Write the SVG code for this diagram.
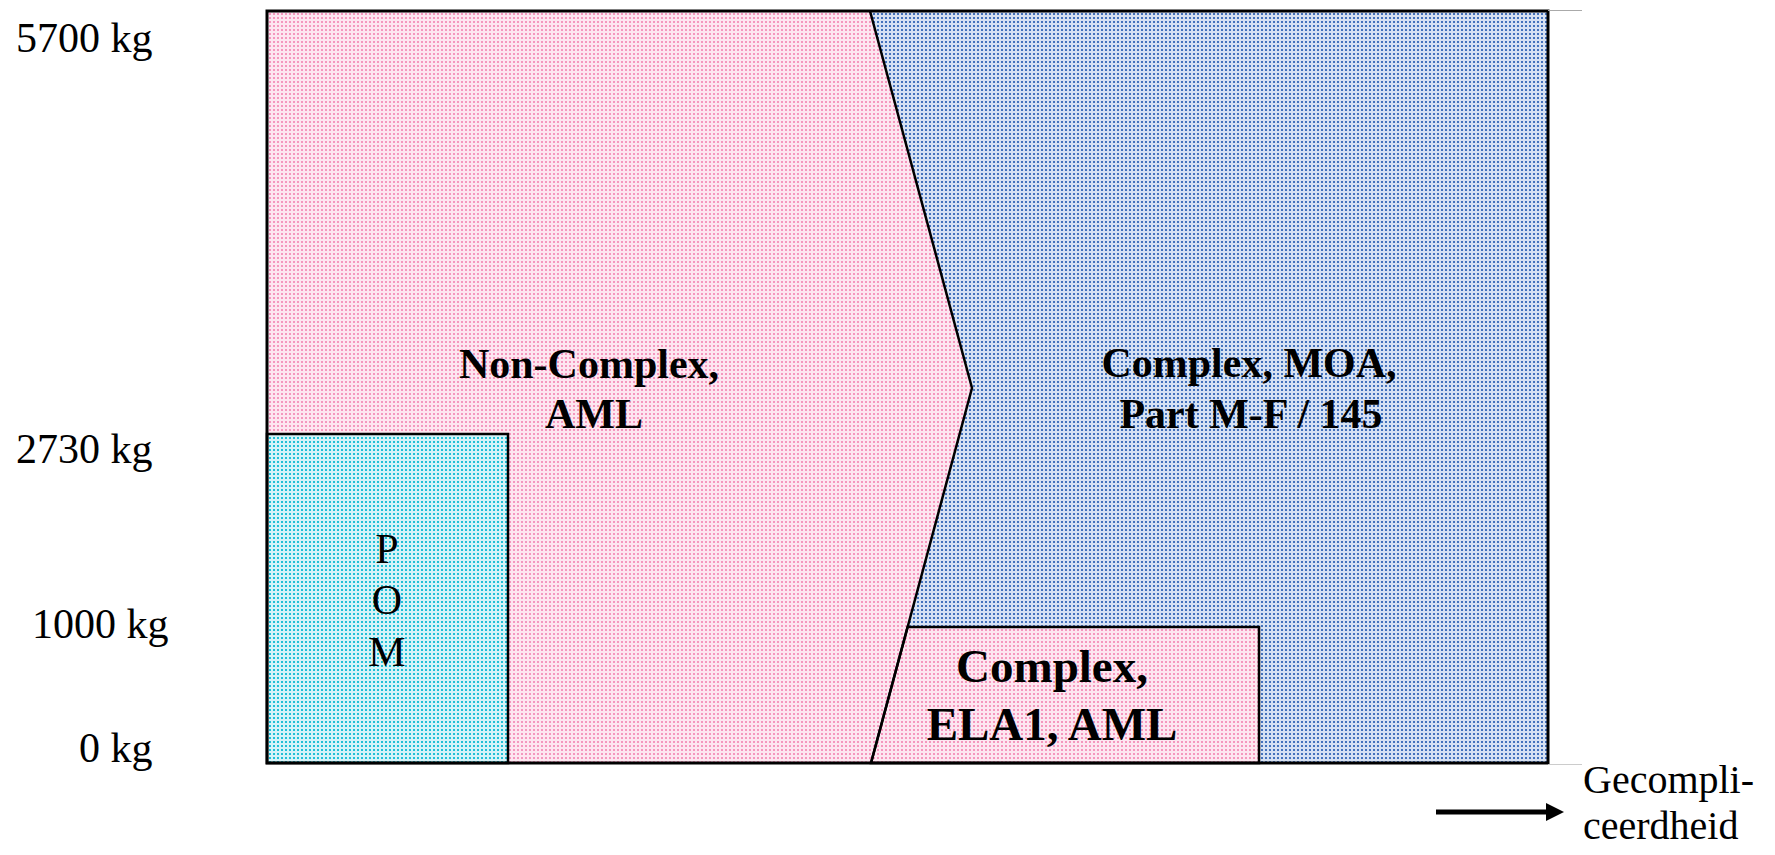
<svg xmlns="http://www.w3.org/2000/svg" width="1775" height="855" viewBox="0 0 1775 855">
  <style>
    .lbl { font-family: "Liberation Serif", "Times New Roman", serif; font-size: 42px; fill: #000; }
    .bold { font-family: "Liberation Serif", "Times New Roman", serif; font-weight: bold; font-size: 42px; fill: #000; text-anchor: middle; }
    .edge { fill: none; stroke: #000; stroke-width: 2.5; }
    .box { stroke: #000; stroke-width: 2.5; }
    .pink { fill: url(#pPink); }
    .blue { fill: url(#pBlue); }
    .cyan { fill: url(#pCyan); }
  </style>
  <defs>
    <pattern id="pPink" width="4" height="4" patternUnits="userSpaceOnUse">
      <rect width="4" height="4" fill="#fde6f0"/>
      <rect x="1" y="1" width="2" height="2" fill="#f497be"/>
    </pattern>
    <pattern id="pBlue" width="4" height="4" patternUnits="userSpaceOnUse">
      <rect width="4" height="4" fill="#d6e1f3"/>
      <rect x="1" y="1" width="2" height="2" fill="#4472bc"/>
    </pattern>
    <pattern id="pCyan" width="4" height="4" patternUnits="userSpaceOnUse">
      <rect width="4" height="4" fill="#d6f3f8"/>
      <rect x="1" y="1" width="2" height="2" fill="#22bfd6"/>
    </pattern>
  </defs>
  <rect width="1775" height="855" fill="#ffffff"/>

  <g id="non-complex">
    <polygon class="pink" points="267,11 870,11 972,388 871,763 267,763"/>
    <text class="bold" x="589" y="378">Non-Complex,</text>
    <text class="bold" x="594" y="428">AML</text>
  </g>

  <g id="complex-moa">
    <polygon class="blue" points="870,11 1548,11 1548,763 871,763 972,388"/>
    <text class="bold" x="1249" y="377">Complex, MOA,</text>
    <text class="bold" x="1251" y="428">Part M-F / 145</text>
  </g>

  <g id="pom">
    <rect class="cyan box" x="267" y="434" width="241" height="329"/>
    <text class="lbl" x="387" y="563" text-anchor="middle" font-size="40">P</text>
    <text class="lbl" x="387" y="614" text-anchor="middle" font-size="40">O</text>
    <text class="lbl" x="387" y="666" text-anchor="middle" font-size="40">M</text>
  </g>

  <g id="complex-ela1">
    <polygon class="pink box" points="907.6,627 1259,627 1259,763 871,763"/>
    <text class="bold" x="1052" y="682" style="font-size:47px">Complex,</text>
    <text class="bold" x="1052" y="740" style="font-size:47px">ELA1, AML</text>
  </g>

  <g id="connectors">
    <polyline points="870,11 972,388 871,763" class="edge"/>
    <rect x="267" y="11" width="1281" height="752" fill="none" stroke="#000" stroke-width="3"/>
    <line x1="1548" y1="10.5" x2="1582" y2="10.5" stroke="#aaaaaa" stroke-width="1.2"/>
    <line x1="1548" y1="764.5" x2="1582" y2="764.5" stroke="#cccccc" stroke-width="1.2"/>
    <line x1="1436" y1="812" x2="1548" y2="812" stroke="#000" stroke-width="5"/>
    <polygon points="1546,803 1564,812 1546,821" fill="#000"/>
  </g>

  <g id="axis-labels">
    <text class="lbl" x="16" y="52">5700 kg</text>
    <text class="lbl" x="16" y="463">2730 kg</text>
    <text class="lbl" x="32" y="638">1000 kg</text>
    <text class="lbl" x="79" y="762">0 kg</text>
    <text class="lbl" x="1583" y="793" style="font-size:40px">Gecompli-</text>
    <text class="lbl" x="1583" y="839" style="font-size:40px">ceerdheid</text>
  </g>
</svg>
